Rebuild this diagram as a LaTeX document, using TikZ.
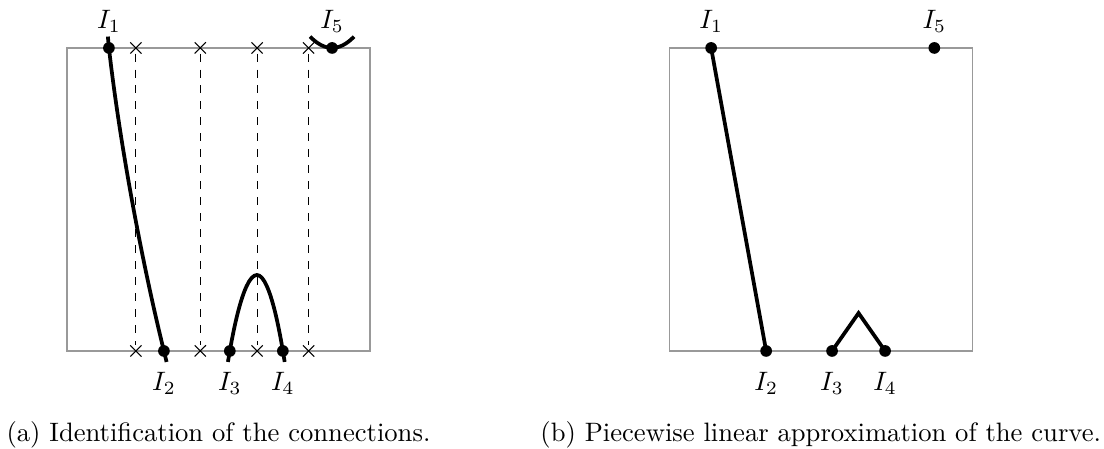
\documentclass[tikz,border=0pt]{standalone}
\usepackage{tikz}
\usetikzlibrary{shapes.misc,positioning}
\definecolor{Frame}{gray}{0.6}

\begin{document}
\begin{tikzpicture}[
  frame/.style={draw=Frame,line width=0.5pt},
  curve/.style={line width=1.4pt},
  dot/.style={circle,fill=black,inner sep=0pt,minimum size=4.4pt},
  xmark/.style={cross out,draw=black,line width=0.4pt,inner sep=0pt,minimum size=3.8pt},
  sweep/.style={dashed,line width=0.4pt},
  caption/.style={anchor=base},
  lowlabel/.style={label={[label distance=2pt]below:#1}}
]
\useasboundingbox (-0.884,-1.294) rectangle (13.69,4.633);

% (a) identification
\begin{scope}
\draw[frame] (0,0) rectangle (4,4);
\coordinate (aI1) at (0.554,4);
\coordinate (aI2) at (1.28,0);
\coordinate (aI3) at (2.15,0);
\coordinate (aI4) at (2.85,0);
\coordinate (aI5) at (3.50,4);
\coordinate (aTop) at (2.508,1.003);
\coordinate (aIn) at (0.54,4.15);
\coordinate (aOut) at (1.315,-0.145);
\coordinate (aL) at (2.125,-0.145);
\coordinate (aR) at (2.874,-0.145);
\coordinate (aU1) at (3.21,4.15);
\coordinate (aU2) at (3.79,4.15);

\foreach \x [count=\i] in {0.91,1.76,2.51,3.19} {
  \node[xmark] (at\i) at (\x,4) {};
  \node[xmark] (ab\i) at (\x,0) {};
  \draw[sweep] (at\i) -- (ab\i);
}

\draw[curve] (aIn) -- (aI1) .. controls (0.70,2.72) and (0.99,1.175) .. (aI2) -- (aOut);
\draw[curve] (aL) parabola bend (aTop) (aR);
\draw[curve] (aU1) parabola bend (aI5) (aU2);

\node[dot,label=above:$I_1$] (ad1) at (aI1) {};
\node[dot,lowlabel=$I_2$] (ad2) at (aI2) {};
\node[dot,lowlabel=$I_3$] (ad3) at (aI3) {};
\node[dot,lowlabel=$I_4$] (ad4) at (aI4) {};
\node[dot,label=above:$I_5$] (ad5) at (aI5) {};

\node[caption] (capa) at (2,-1.19) {(a) Identification of the connections.};
\end{scope}

% (b) linear pieces
\begin{scope}[xshift=7.95cm]
\draw[frame] (0,0) rectangle (4,4);
\coordinate (bI1) at (0.554,4);
\coordinate (bI2) at (1.28,0);
\coordinate (bI3) at (2.15,0);
\coordinate (bI4) at (2.85,0);
\coordinate (bI5) at (3.50,4);
\coordinate (bTop) at (2.50,0.50);

\draw[curve] (bI1) -- (bI2);
\draw[curve] (bI3) -- (bTop) -- (bI4);

\node[dot,label=above:$I_1$] (bd1) at (bI1) {};
\node[dot,lowlabel=$I_2$] (bd2) at (bI2) {};
\node[dot,lowlabel=$I_3$] (bd3) at (bI3) {};
\node[dot,lowlabel=$I_4$] (bd4) at (bI4) {};
\node[dot,label=above:$I_5$] (bd5) at (bI5) {};

\node[caption] (capb) at (2,-1.19) {(b) Piecewise linear approximation of the curve.};
\end{scope}
\end{tikzpicture}
\end{document}
